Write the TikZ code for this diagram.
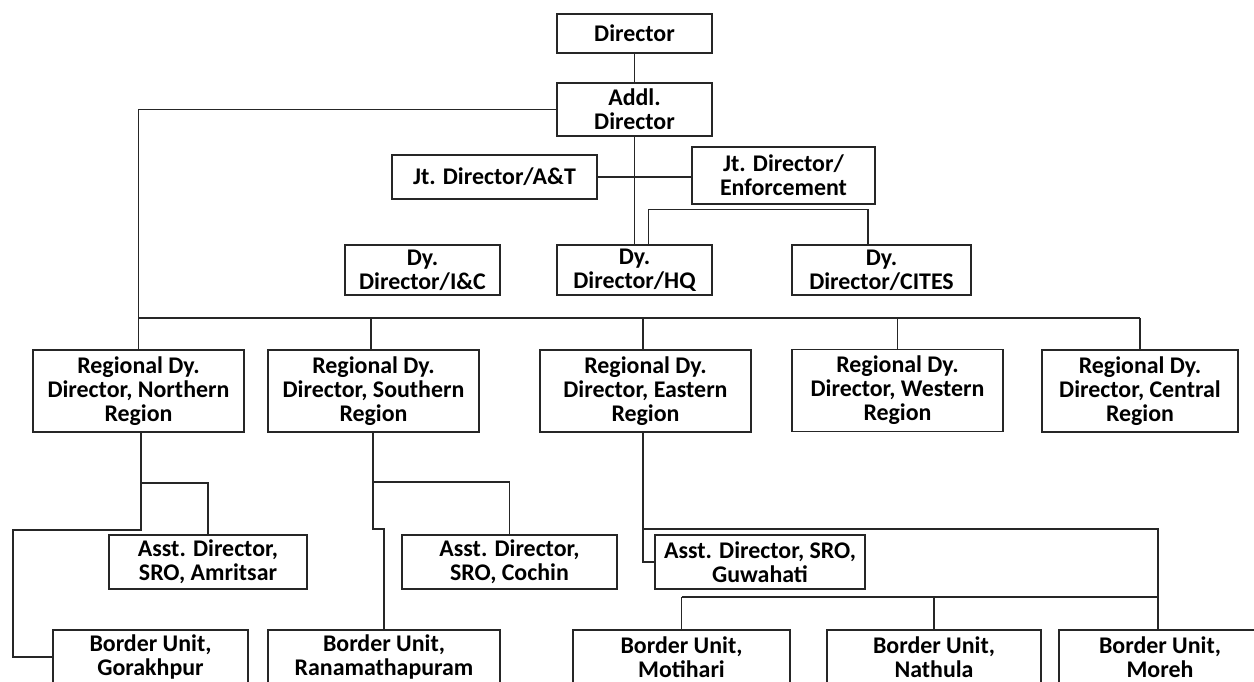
\documentclass[tikz,border=0pt]{standalone}
\usepackage{fontspec}
\setmainfont{Carlito}
\usepackage{tikz}

\begin{document}
\begin{tikzpicture}[x=0.02cm, y=-0.02cm,
        box/.style = {draw=black!85, line width=0.7pt, align=center, inner sep=0pt,
                      font=\fontsize{13.6}{13.6}\selectfont\bfseries},
        link/.style = {draw=black!85, line width=0.7pt}]
        % page frame
        \useasboundingbox (0,0) rectangle (1254,681);
        \clip (0,0) rectangle (1254,681);

        % top of the chart
        \node[box, minimum width=3.1cm, minimum height=0.78cm] (dir) at (634.5,33.5) {Director};
        \node[box, minimum width=3.1cm, minimum height=1.06cm] (addl) at (634.5,109.5) {Addl.\\Director};
        \node[box, minimum width=4.1cm, minimum height=0.88cm] (jtat) at (494.5,177) {Jt. Director/A\&T};
        \node[box, minimum width=3.66cm, minimum height=1.14cm] (jtenf) at (783.5,175.5) {Jt. Director/\\Enforcement};

        % deputy directors
        \node[box, minimum width=3.1cm, minimum height=1cm] (dyic) at (422.5,270) {Dy.\\Director/I\&C};
        \node[box, minimum width=3.1cm, minimum height=1cm] (dyhq) at (634.5,270) {Dy.\\Director/HQ};
        \node[box, minimum width=3.58cm, minimum height=1cm] (dycites) at (881.5,270) {Dy.\\Director/CITES};

        % regional deputy directors
        \node[box, minimum width=4.22cm, minimum height=1.64cm] (rn) at (138.5,391) {Regional Dy.\\Director, Northern\\Region};
        \node[box, minimum width=4.22cm, minimum height=1.64cm] (rs) at (373.5,391) {Regional Dy.\\Director, Southern\\Region};
        \node[box, minimum width=4.22cm, minimum height=1.64cm] (re) at (645.5,391) {Regional Dy.\\Director, Eastern\\Region};
        \node[box, minimum width=4.22cm, minimum height=1.64cm] (rw) at (897.5,390.5) {Regional Dy.\\Director, Western\\Region};
        \node[box, minimum width=3.92cm, minimum height=1.64cm] (rc) at (1140,391) {Regional Dy.\\Director, Central\\Region};

        % sub regional offices
        \node[box, minimum width=3.96cm, minimum height=1.08cm] (amritsar) at (208,562) {Asst. Director,\\SRO, Amritsar};
        \node[box, minimum width=4.3cm, minimum height=1.08cm] (cochin) at (509.5,562) {Asst. Director,\\SRO, Cochin};
        \node[box, minimum width=4.2cm, minimum height=1.08cm] (guwahati) at (760,562) {Asst. Director, SRO,\\Guwahati};

        % border units
        \node[box, minimum width=3.9cm, minimum height=1.08cm] (gorakhpur) at (150.5,657) {Border Unit,\\Gorakhpur};
        \node[box, minimum width=4.64cm, minimum height=1.08cm] (ranam) at (384,657) {Border Unit,\\Ranamathapuram};
        \node[box, minimum width=4.34cm, minimum height=1.08cm] (motihari) at (681.5,657) {Border Unit,\\Motihari};
        \node[box, minimum width=4.28cm, minimum height=1.08cm] (nathula) at (934,657) {Border Unit,\\Nathula};
        \node[box, minimum width=4.04cm, minimum height=1.08cm] (moreh) at (1160,657) {Border Unit,\\Moreh};

        % bends of the connectors
        \coordinate (bus) at (0,318);
        \coordinate (nfork) at (141,483);
        \coordinate (nbend) at (13,530);
        \coordinate (sfork) at (373,482);
        \coordinate (sbend) at (384,529);
        \coordinate (efork) at (643,529);
        \coordinate (ebus) at (0,597);
        \coordinate (hqtap) at ([xshift=0.28cm]dyhq.north);
        \coordinate (citestap) at ([xshift=-0.27cm]dycites.north);
        \coordinate (morehtap) at ([xshift=-0.04cm]moreh.north);

        % head office links
        \draw[link] (dir) -- (addl);
        \draw[link] (addl) -- (dyhq);
        \draw[link] (jtat.east) -- (jtat.east -| jtenf.west);
        \draw[link] (hqtap) -- ++(0,-35) -| (citestap);

        % regional links
        \draw[link] (addl.west) -| (rn.north);
        \draw[link] (bus -| rn.north) -- (bus -| rc.north);
        \foreach \reg/\dx in {rs/-0.05cm, re/-0.05cm, rw/0cm, rc/0cm}
            \draw[link] ([xshift=\dx]bus -| \reg.north) -- ([xshift=\dx]\reg.north);

        % northern region
        \draw[link] (nfork |- rn.south) -- (nfork) -| (amritsar.north);
        \draw[link] (nfork) |- (nbend) |- (gorakhpur.west);

        % southern region
        \draw[link] (sfork |- rs.south) -- (sfork) -| (cochin.north);
        \draw[link] (sfork) |- (sbend) -- (ranam.north);

        % eastern region
        \draw[link] (efork |- re.south) -- (efork) -| (morehtap);
        \draw[link] (efork) |- (guwahati.west);
        \draw[link] (ebus -| motihari.north) -- (ebus -| morehtap);
        \draw[link] (ebus -| motihari.north) -- (motihari.north);
        \draw[link] (ebus -| nathula.north) -- (nathula.north);
\end{tikzpicture}
\end{document}
